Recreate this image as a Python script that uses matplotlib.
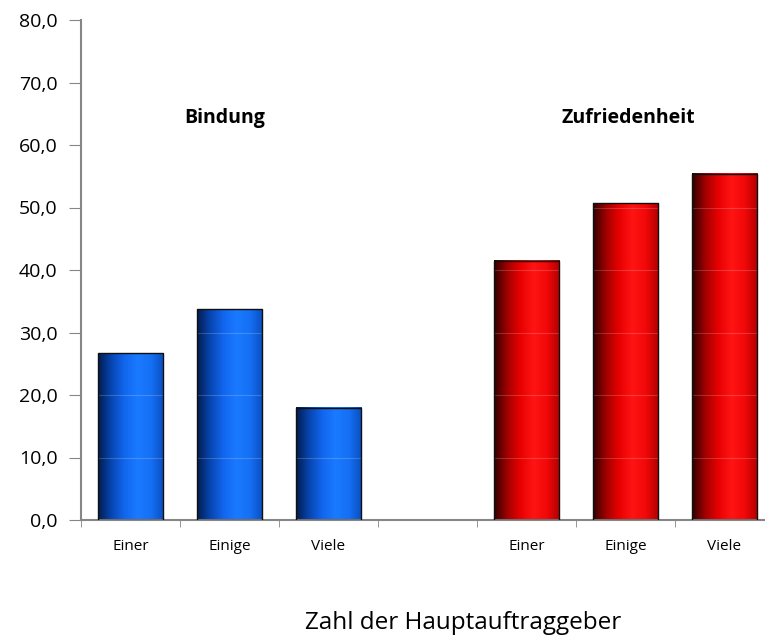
import numpy as np
import matplotlib.pyplot as plt
from matplotlib.colors import LinearSegmentedColormap

# Werte
kategorien = ['Einer', 'Einige', 'Viele', '', 'Einer', 'Einige', 'Viele']
bindung = [26.7, 33.7, 18.0]
zufriedenheit = [41.5, 50.7, 55.4]
y_ticks = [0, 10, 20, 30, 40, 50, 60, 70, 80]

plt.rcParams['font.family'] = ['Open Sans', 'DejaVu Sans']

fig = plt.figure(figsize=(7.65, 6.39), dpi=100)
ax = fig.add_axes([81 / 765, 1 - 520 / 639, 693 / 765, 500 / 639])

blau = LinearSegmentedColormap.from_list('blau', ['#021c4e', '#0845b0', '#1166ee', '#1a7aff', '#1570f5', '#0a4fc0'])
rot = LinearSegmentedColormap.from_list('rot', ['#300000', '#a00000', '#e80000', '#ff1414', '#f20808', '#b00000'])
verlauf = np.linspace(0, 1, 256).reshape(1, -1)

x_b = [0, 1, 2]
x_z = [4, 5, 6]
balken_b = ax.bar(x_b, bindung, width=0.66, color='none', edgecolor='#101010', linewidth=1.0, zorder=3)
balken_z = ax.bar(x_z, zufriedenheit, width=0.66, color='none', edgecolor='#101010', linewidth=1.0, zorder=3)

for balken, cmap in [(balken_b, blau), (balken_z, rot)]:
    for p in balken:
        x0, y0 = p.get_x(), p.get_y()
        ax.imshow(verlauf, cmap=cmap, aspect='auto', zorder=2,
                  extent=[x0, x0 + p.get_width(), y0, y0 + p.get_height()])

# feine Gitterlinien ueber den Balken
for t in y_ticks[1:]:
    ax.axhline(t, color='white', alpha=0.18, linewidth=0.8, zorder=2.5)

ax.set_xlim(-0.5, 6.5)
ax.set_ylim(0, 80)
ax.set_yticks(y_ticks)
ax.set_yticklabels([f'{v:.1f}'.replace('.', ',') for v in y_ticks], fontsize=14)
ax.set_xticks(np.arange(7))
ax.set_xticklabels(kategorien, fontsize=11)
ax.set_xticks(np.arange(-0.5, 6.6, 1), minor=True)
ax.tick_params(axis='x', which='major', length=0, pad=14)
ax.tick_params(axis='x', which='minor', length=5, color='#868686')
ax.tick_params(axis='y', length=9, color='#868686', pad=8)

for s in ['top', 'right']:
    ax.spines[s].set_visible(False)
for s in ['left', 'bottom']:
    ax.spines[s].set_color('#868686')
    ax.spines[s].set_linewidth(1.5)

ax.text(0.95, 64.3, 'Bindung', fontsize=14, fontweight='bold', ha='center', va='center')
ax.text(5.03, 64.3, 'Zufriedenheit', fontsize=14, fontweight='bold', ha='center', va='center')

fig.text(463 / 765, 1 - 623 / 639, 'Zahl der Hauptauftraggeber', fontsize=17.5, ha='center', va='center')

fig.savefig('out.png', dpi=100)
